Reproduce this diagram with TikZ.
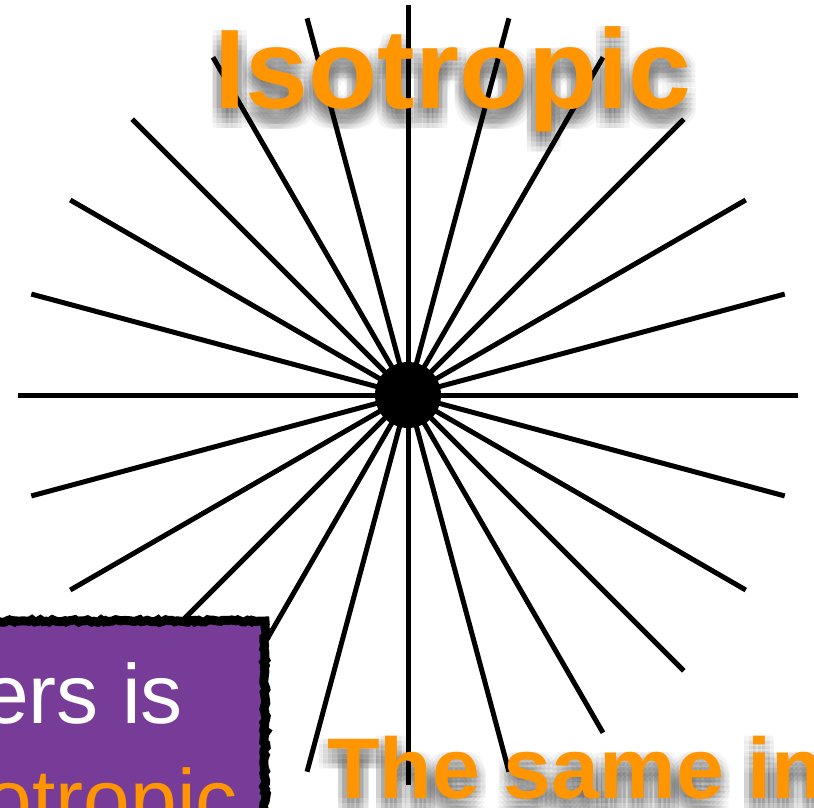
\documentclass[tikz,border=0pt]{standalone}
\usepackage{fontspec}
\setmainfont{Liberation Sans}
\usetikzlibrary{decorations.pathmorphing,calc}
\definecolor{iorange}{RGB}{255,149,0}
\definecolor{ipurple}{RGB}{118,60,152}
\begin{document}
\begin{tikzpicture}[x=1pt,y=-1pt,
  ray/.style={line width=5pt, line cap=butt},
  bigtitle/.style={font=\bfseries\fontsize{113}{130}\selectfont, inner sep=0pt},
  subtitle/.style={font=\bfseries\fontsize{86}{100}\selectfont, inner sep=0pt},
  boxtext/.style={font=\fontsize{84}{100}\selectfont, inner sep=0pt},
  shadowcopy/.style={text=black, opacity=0.04},
  roughbox/.style={draw=black, line width=9pt, fill=ipurple, decorate,
    decoration={random steps, segment length=3pt, amplitude=1.3pt}}]
\useasboundingbox (0,0) rectangle (814,808);
\coordinate (C) at (408,395);
% starburst
\foreach \a in {0,15,...,345}
  \draw[ray] (C) -- ($(C)+(\a:390)$);
\fill (C) circle[radius=33pt];
% title shadow and title
\foreach \dx in {-9,-4.5,0,4.5,9}
  \foreach \dy in {0,5,10,15,20}
    \node[bigtitle, shadowcopy, anchor=base] at (453+\dx,108+\dy) {Isotropic};
\node[bigtitle, text=iorange, anchor=base] (title) at (453,108) {Isotropic};
% bottom text shadow and text
\foreach \dx in {-9,-4.5,0,4.5,9}
  \foreach \dy in {0,5,10,15,20}
    \node[subtitle, shadowcopy, anchor=base west] at (327+\dx,798+\dy) {The same in};
\node[subtitle, text=iorange, anchor=base west] (same) at (327,798) {The same in};
% purple box
\draw[roughbox] (-20,621) rectangle (265,840);
\node[boxtext, text=white, anchor=base east] (l1) at (183,723) {ers is};
\node[boxtext, text=iorange, anchor=base east] (l2) at (238,828) {otropic};
\end{tikzpicture}
\end{document}
